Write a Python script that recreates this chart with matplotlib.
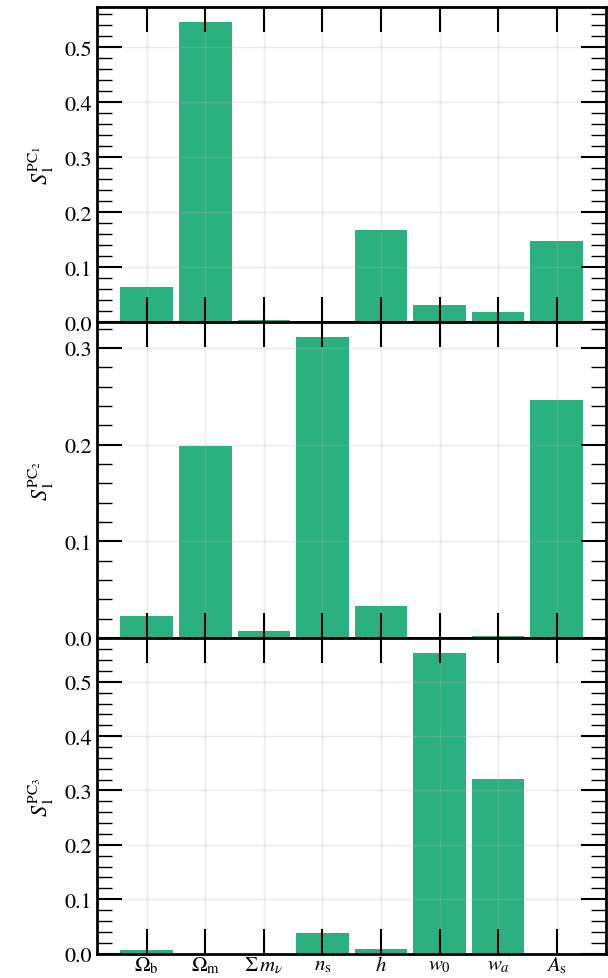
import numpy as np
import matplotlib
matplotlib.use("Agg")
import matplotlib.pyplot as plt
from matplotlib.ticker import MultipleLocator

plt.rcParams['font.family'] = 'serif'
plt.rcParams['font.serif'] = ['STIXGeneral', 'DejaVu Serif']
plt.rcParams['mathtext.fontset'] = 'stix'

# parameter names
params = [r'$\Omega_{\rm b}$', r'$\Omega_{\rm m}$', r'$\Sigma\, m_\nu$', r'$n_{\rm s}$',
          r'$h$', r'$w_0$', r'$w_a$', r'$A_{\rm s}$']

# first-order Sobol indices for each principal component
s1_pc1 = [0.065, 0.546, 0.004, 0.0, 0.168, 0.032, 0.018, 0.147]
s1_pc2 = [0.023, 0.199, 0.007, 0.311, 0.033, 0.0, 0.002, 0.246]
s1_pc3 = [0.007, 0.0, 0.0, 0.038, 0.009, 0.553, 0.322, 0.0]

ylabels = [r'$S_1^{\rm PC_1}$', r'$S_1^{\rm PC_2}$', r'$S_1^{\rm PC_3}$']

color = '#2bb07f'

fig, axes = plt.subplots(3, 1, figsize=(6.08, 9.79), dpi=100, sharex=True)
fig.subplots_adjust(left=0.16, right=0.997, top=0.992, bottom=0.025, hspace=0)

x = np.arange(len(params))
for ax, vals, lab in zip(axes, [s1_pc1, s1_pc2, s1_pc3], ylabels):
    ax.bar(x, vals, width=0.9, color=color, zorder=2)
    ax.set_ylabel(lab, fontsize=16, labelpad=6)
    ax.grid(True, color='#b0b0b0', alpha=0.25, lw=1, zorder=3)
    ax.set_axisbelow(False)
    ax.yaxis.set_major_locator(MultipleLocator(0.1))
    ax.yaxis.set_minor_locator(MultipleLocator(0.02))
    ax.tick_params(axis='both', which='major', direction='in', length=18, width=1.5,
                   top=True, right=True, labelsize=16)
    ax.tick_params(axis='x', which='major', pad=1)
    ax.tick_params(axis='y', which='minor', direction='in', length=11, width=1.0,
                   right=True)
    ax.tick_params(axis='x', which='minor', bottom=False, top=False)
    for sp in ax.spines.values():
        sp.set_linewidth(2)
    ax.set_ylim(0, max(vals) * 1.05)

axes[-1].set_xticks(x)
axes[-1].set_xticklabels(params, fontsize=15)
axes[-1].set_xlim(-0.845, 7.845)

fig.savefig('out.png', dpi=100)
